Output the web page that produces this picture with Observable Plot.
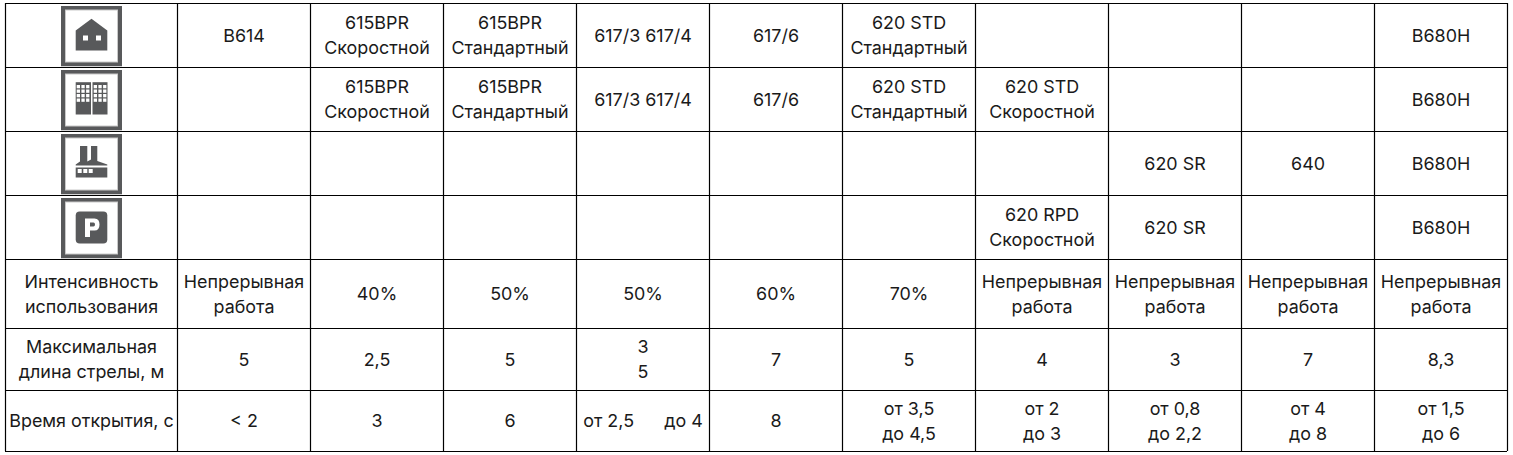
<!DOCTYPE html>
<html><head><meta charset="utf-8">
<script src="https://cdn.jsdelivr.net/npm/d3@7"></script>
<script src="https://cdn.jsdelivr.net/npm/@observablehq/plot@0.6"></script>
<style>html,body{margin:0;padding:0;background:#fff}svg{display:block}</style>
</head><body><div id="chart"></div>
<script>
// Table content
const rowLabels = [null, null, null, null, "Интенсивность\nиспользования", "Максимальная\nдлина стрелы, м", "Время открытия, с"];
const house = ["B614", "615BPR\nСкоростной", "615BPR\nСтандартный", "617/3 617/4", "617/6", "620 STD\nСтандартный", "", "", "", "B680H"];
const office = ["", "615BPR\nСкоростной", "615BPR\nСтандартный", "617/3 617/4", "617/6", "620 STD\nСтандартный", "620 STD\nСкоростной", "", "", "B680H"];
const factory = ["", "", "", "", "", "", "", "620 SR", "640", "B680H"];
const parking = ["", "", "", "", "", "", "620 RPD\nСкоростной", "620 SR", "", "B680H"];
const intensity = ["Непрерывная\nработа", "40%", "50%", "50%", "60%", "70%", "Непрерывная\nработа", "Непрерывная\nработа", "Непрерывная\nработа", "Непрерывная\nработа"];
const boomLength = ["5", "2,5", "5", "3\n5", "7", "5", "4", "3", "7", "8,3"];
const openTime = ["< 2", "3", "6", "от 2,5\u00a0\u00a0\u00a0\u00a0\u00a0\u00a0до 4", "8", "от 3,5\nдо 4,5", "от 2\nдо 3", "от 0,8\nдо 2,2", "от 4\nдо 8", "от 1,5\nдо 6"];
const rows = [house, office, factory, parking, intensity, boomLength, openTime];

// Table layout (grid edges), separate from content
const colEdges = [5, 177, 310, 443, 576, 709, 842, 975, 1108, 1241, 1374, 1507];
const rowEdges = [3, 67, 131, 195, 259, 328, 390, 451];

// Icons
const D = "#58595b";
const frame = `<rect x="0" y="0" width="61" height="61" fill="${D}"/><rect x="4.5" y="4.5" width="52" height="52" fill="#fff" stroke="#c9c9c9" stroke-width="1"/>`;
const win = (x, y, w, h = w) => `<rect x="${x}" y="${y}" width="${w}" height="${h}" fill="#fff"/>`;
const houseIcon = `<path d="M14.7 25 30.5 13.3 46.3 25V45H14.7Z" fill="${D}"/>` + win(22, 30, 5) + win(35, 30, 5);
let officeWins = "";
for (const x0 of [15.7, 32.7]) for (let c = 0; c < 3; c++) for (let r = 0; r < 4; r++)
  officeWins += win(x0 + c * 4.7, 15.5 + r * 4.5, 3.3);
const officeIcon = `<rect x="14.7" y="12.7" width="15.3" height="32.3" fill="${D}"/><rect x="31.5" y="12.7" width="15" height="32.3" fill="${D}"/>` + officeWins;
const factoryIcon = `<path d="M14.7 32V31L19 28V12.5H26.3V28L30 26V12.5H36.3V27.5L46.3 31V32Z" fill="${D}"/>` +
  `<rect x="14.7" y="34" width="31.6" height="10" fill="${D}"/>` + win(16.7, 35.5, 4, 4) + win(22.3, 35.5, 4, 4) + win(27.7, 35.5, 4, 4);
const parkingIcon = `<rect x="14.7" y="14" width="31.6" height="32" rx="4" fill="${D}"/><path d="M24 21H33.5Q38.5 21 38.5 27T33.5 33H29V39.5H24ZM29 25V29H32.5Q34 29 34 27T32.5 25Z" fill="#fff" fill-rule="evenodd"/>`;
const uri = s => "data:image/svg+xml," + encodeURIComponent(`<svg xmlns="http://www.w3.org/2000/svg" viewBox="0 0 61 61" width="61" height="61">${frame}${s}</svg>`);
const icons = [houseIcon, officeIcon, factoryIcon, parkingIcon].map(uri);

const mid = (a, i) => (a[i] + a[i + 1]) / 2;
const cells = rows.flatMap((row, r) => row.map((label, c) => ({label, x: mid(colEdges, c + 1), y: mid(rowEdges, r)})));
const heads = rowLabels.map((label, r) => ({label, x: mid(colEdges, 0), y: mid(rowEdges, r)})).filter(d => d.label);
const iconRows = icons.map((src, r) => ({src, x: mid(colEdges, 0), y: mid(rowEdges, r) + 0.5}));

const textOpts = {x: "x", y: "y", dy: -2, text: "label", fill: "#1a1a1a", fontSize: 17.9, lineHeight: 1.4, lineAnchor: "middle", textAnchor: "middle"};

const chart = Plot.plot({
  width: 1513, height: 455,
  marginTop: 0, marginRight: 0, marginBottom: 0, marginLeft: 0,
  style: {fontFamily: "Inter, sans-serif", background: "#fff"},
  x: {type: "linear", domain: [0, 1513], range: [0, 1513], axis: null},
  y: {type: "linear", domain: [0, 455], range: [0, 455], axis: null},
  marks: [
    Plot.image(iconRows, {x: "x", y: "y", src: "src", width: 61, height: 61}),
    Plot.ruleX(colEdges, {x: d => d, y1: rowEdges[0], y2: rowEdges[rowEdges.length - 1], stroke: "#000", strokeWidth: 1.2}),
    Plot.ruleY(rowEdges, {y: d => d, x1: colEdges[0], x2: colEdges[colEdges.length - 1], stroke: "#000", strokeWidth: 1.2}),
    Plot.text(cells.filter(d => d.label), textOpts),
    Plot.text(heads, textOpts)
  ]
});
document.getElementById("chart").append(chart);
</script></body></html>
